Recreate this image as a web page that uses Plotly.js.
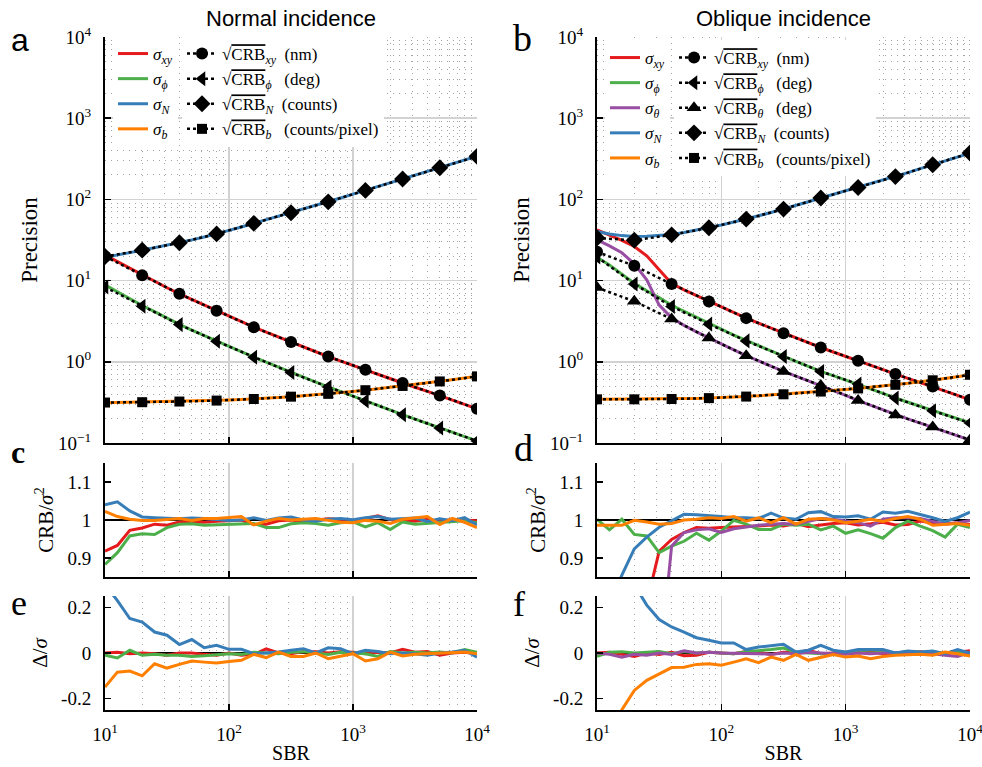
<!DOCTYPE html>
<html>
<head>
<meta charset="utf-8">
<script src="https://cdn.plot.ly/plotly-3.0.1.min.js"></script>
<style>html,body{margin:0;padding:0;background:#fff;}#chart{width:982px;height:767px;}</style>
</head>
<body>
<div id="chart"></div>
<script>
// ---------- DATA ----------
const sbr = [10, 12.59, 15.85, 19.95, 25.12, 31.62, 39.81, 50.12, 63.1, 79.43, 100, 125.9, 158.5, 199.5, 251.2, 316.2, 398.1, 501.2, 631, 794.3, 1000, 1259, 1585, 1995, 2512, 3162, 3981, 5012, 6310, 7943, 10000];
const sbrCRB = [10, 19.95, 39.81, 79.43, 158.5, 316.2, 631, 1259, 2512, 5012, 10000];

// Panel a: normal incidence, simulated precision
const aSigXY  = [20.7, 17.2, 14.0, 11.6, 9.73, 8.17, 6.87, 5.85, 4.99, 4.25, 3.64, 3.12, 2.67, 2.32, 2.01, 1.75, 1.53, 1.33, 1.16, 1.03, 0.904, 0.797, 0.703, 0.619, 0.547, 0.486, 0.433, 0.385, 0.339, 0.299, 0.264];
const aSigPhi = [8.85, 7.27, 5.92, 4.93, 4.14, 3.45, 2.89, 2.46, 2.10, 1.80, 1.55, 1.32, 1.14, 0.99, 0.856, 0.737, 0.643, 0.562, 0.491, 0.429, 0.376, 0.329, 0.290, 0.254, 0.223, 0.197, 0.173, 0.153, 0.136, 0.120, 0.106];
const aSigN   = [19.4, 20.5, 22.1, 23.6, 25.3, 27.1, 29.2, 31.7, 34.5, 37.6, 41.5, 45.8, 50.6, 56.0, 61.8, 68.3, 75.9, 84.1, 93.3, 104, 116, 129, 144, 160, 178, 198, 220, 245, 274, 304, 341];
const aSigB   = [0.312, 0.314, 0.317, 0.318, 0.320, 0.321, 0.324, 0.327, 0.330, 0.333, 0.338, 0.343, 0.348, 0.356, 0.364, 0.372, 0.382, 0.392, 0.403, 0.417, 0.432, 0.447, 0.465, 0.484, 0.504, 0.526, 0.548, 0.573, 0.601, 0.630, 0.663];
// Panel a: sqrt(CRB)
const aCrbXY  = [19.8, 11.6, 6.87, 4.25, 2.67, 1.75, 1.16, 0.797, 0.547, 0.385, 0.264];
const aCrbPhi = [8.32, 4.84, 2.87, 1.79, 1.14, 0.736, 0.490, 0.329, 0.223, 0.153, 0.106];
const aCrbN   = [19.8, 23.7, 29.2, 37.6, 50.7, 68.4, 93.3, 129, 178, 245, 339];
const aCrbB   = [0.315, 0.318, 0.324, 0.333, 0.348, 0.372, 0.403, 0.447, 0.504, 0.573, 0.661];

// Panel b: oblique incidence, simulated precision
const bSigXY    = [42.2, 36.6, 31.3, 26.3, 20.2, 13.6, 9.2, 7.69, 6.52, 5.53, 4.73, 4.04, 3.45, 2.99, 2.60, 2.25, 1.97, 1.72, 1.50, 1.32, 1.17, 1.03, 0.908, 0.800, 0.706, 0.628, 0.558, 0.497, 0.438, 0.386, 0.340];
const bSigPhi   = [19.4, 15.6, 12.0, 9.3, 7.5, 6.2, 4.97, 4.18, 3.50, 2.99, 2.53, 2.13, 1.83, 1.57, 1.36, 1.17, 1.01, 0.878, 0.762, 0.677, 0.600, 0.532, 0.468, 0.409, 0.358, 0.318, 0.282, 0.250, 0.223, 0.199, 0.177];
const bSigTheta = [31.8, 26.8, 22.0, 16.1, 10.2, 5.0, 3.48, 2.81, 2.34, 1.96, 1.66, 1.40, 1.19, 1.02, 0.881, 0.760, 0.665, 0.583, 0.511, 0.443, 0.385, 0.333, 0.291, 0.255, 0.222, 0.198, 0.176, 0.157, 0.139, 0.123, 0.109];
const bSigN     = [40.3, 37.5, 35.8, 35.0, 35.1, 35.8, 37.0, 39.2, 41.8, 44.7, 48.5, 52.6, 57.1, 62.8, 69.0, 75.9, 84.1, 93.5, 104, 115, 127, 140, 156, 173, 191, 214, 239, 267, 298, 333, 372];
const bSigB     = [0.345, 0.345, 0.345, 0.345, 0.346, 0.348, 0.348, 0.352, 0.354, 0.357, 0.362, 0.368, 0.373, 0.381, 0.390, 0.398, 0.408, 0.419, 0.430, 0.443, 0.456, 0.470, 0.486, 0.504, 0.521, 0.543, 0.568, 0.592, 0.624, 0.656, 0.692];
// Panel b: sqrt(CRB)
const bCrbXY    = [22.6, 15.2, 9.06, 5.53, 3.45, 2.25, 1.50, 1.03, 0.706, 0.497, 0.340];
const bCrbPhi   = [19.6, 9.06, 4.80, 2.91, 1.81, 1.16, 0.760, 0.531, 0.357, 0.249, 0.176];
const bCrbTheta = [8.2, 5.55, 3.36, 1.96, 1.19, 0.760, 0.511, 0.333, 0.222, 0.157, 0.109];
const bCrbN     = [33.4, 31.4, 36.6, 44.7, 57.2, 75.9, 104, 140, 191, 267, 372];
const bCrbB     = [0.345, 0.345, 0.348, 0.357, 0.373, 0.398, 0.430, 0.470, 0.521, 0.592, 0.692];

// Panel c: CRB / sigma^2 (normal)
const cXY  = [0.918, 0.933, 0.973, 0.979, 0.989, 0.986, 0.995, 0.996, 0.994, 0.997, 0.998, 1.000, 0.988, 0.989, 0.998, 1.000, 0.996, 0.999, 1.003, 1.001, 0.998, 1.004, 1.011, 1.001, 0.999, 0.997, 1.002, 0.996, 1.001, 0.999, 0.998];
const cPhi = [0.883, 0.914, 0.958, 0.964, 0.962, 0.980, 0.989, 0.990, 0.986, 0.987, 0.989, 0.990, 0.991, 0.980, 0.980, 0.990, 0.993, 0.991, 0.986, 0.993, 0.995, 0.982, 0.993, 0.975, 0.995, 0.989, 0.991, 0.993, 0.996, 0.998, 0.993];
const cN   = [1.040, 1.048, 1.024, 1.008, 1.006, 1.004, 1.003, 1.005, 1.004, 1.001, 0.999, 1.000, 1.006, 0.999, 1.005, 1.008, 1.000, 0.997, 1.002, 1.004, 1.001, 1.006, 1.009, 1.002, 1.003, 1.005, 0.996, 1.003, 0.998, 1.006, 0.987];
const cB   = [1.023, 1.009, 1.002, 0.999, 0.999, 1.002, 1.004, 0.999, 1.004, 1.004, 1.006, 1.009, 0.987, 0.997, 1.004, 1.000, 1.002, 1.004, 0.999, 0.994, 0.993, 0.999, 0.997, 0.991, 1.002, 1.006, 1.009, 0.988, 1.004, 0.994, 0.980];

// Panel d: CRB / sigma^2 (oblique)
const dXY    = [0.50, 0.58, 0.65, 0.72, 0.78, 0.918, 0.949, 0.967, 0.980, 0.978, 0.980, 0.981, 0.982, 0.984, 0.987, 0.984, 0.991, 0.982, 0.987, 0.991, 0.993, 0.987, 0.990, 0.994, 0.987, 0.988, 0.997, 0.992, 0.990, 0.992, 0.988];
const dPhi   = [1.002, 0.974, 1.002, 0.962, 0.958, 0.914, 0.931, 0.944, 0.965, 0.947, 0.971, 0.999, 0.989, 0.975, 0.975, 0.989, 0.986, 0.989, 0.974, 0.984, 0.965, 0.974, 0.964, 0.952, 0.980, 0.997, 0.984, 0.972, 0.955, 0.989, 0.980];
const dTheta = [0.30, 0.35, 0.40, 0.45, 0.52, 0.60, 0.931, 0.967, 0.974, 0.977, 0.967, 0.977, 0.982, 0.986, 0.989, 0.991, 0.989, 0.997, 1.004, 1.002, 0.997, 0.993, 0.984, 1.002, 1.006, 1.006, 1.004, 0.997, 0.989, 0.993, 0.999];
const dN     = [0.70, 0.78, 0.855, 0.924, 0.955, 0.981, 0.997, 1.015, 1.014, 1.012, 1.009, 1.006, 1.006, 1.004, 1.018, 1.005, 1.002, 1.019, 1.022, 1.009, 1.008, 1.011, 1.002, 1.021, 1.018, 1.023, 1.015, 1.006, 0.996, 1.006, 1.021];
const dB     = [0.986, 0.986, 0.986, 0.999, 0.995, 0.989, 0.991, 1.000, 1.002, 1.006, 1.004, 1.009, 0.997, 1.006, 0.993, 1.006, 0.989, 1.002, 1.004, 1.000, 0.993, 0.997, 1.002, 0.996, 1.004, 1.009, 1.002, 0.986, 0.989, 0.991, 0.986];

// Panel e: bias / sigma (normal)
const eXY  = [0.000, 0.003, -0.003, 0.000, -0.003, -0.010, 0.000, 0.000, -0.006, -0.010, 0.000, -0.010, -0.006, 0.018, 0.000, -0.003, 0.006, 0.006, 0.000, 0.006, 0.003, -0.003, 0.003, 0.000, 0.016, 0.003, 0.006, -0.010, 0.000, 0.003, -0.003];
const ePhi = [-0.010, -0.022, 0.012, -0.010, -0.006, -0.010, -0.010, -0.015, -0.012, -0.006, -0.003, -0.006, 0.003, 0.000, -0.003, 0.003, 0.006, 0.000, -0.006, 0.003, 0.000, -0.003, -0.015, 0.006, 0.000, 0.003, 0.000, 0.004, 0.000, 0.015, 0.003];
const eN   = [0.30, 0.23, 0.151, 0.136, 0.092, 0.078, 0.037, 0.059, 0.023, 0.034, 0.016, 0.016, -0.003, 0.000, 0.004, 0.012, 0.019, 0.000, 0.023, 0.019, -0.003, 0.012, 0.007, -0.003, 0.000, -0.003, -0.010, 0.000, 0.004, 0.012, -0.018];
const eB   = [-0.149, -0.084, -0.079, -0.100, -0.047, -0.066, -0.050, -0.035, -0.040, -0.044, -0.037, -0.032, -0.006, -0.020, 0.004, -0.015, -0.015, 0.000, -0.025, -0.013, -0.003, -0.035, -0.025, 0.004, -0.013, -0.006, -0.003, 0.000, 0.001, 0.004, -0.003];

// Panel f: bias / sigma (oblique)
const fXY    = [0.000, 0.003, -0.006, -0.015, 0.000, -0.006, 0.003, -0.012, -0.010, 0.003, 0.000, -0.003, 0.006, 0.003, -0.006, 0.003, 0.000, 0.012, -0.003, 0.000, 0.003, 0.000, 0.006, -0.003, 0.000, 0.003, 0.006, 0.000, -0.003, 0.003, 0.010];
const fPhi   = [-0.015, 0.003, 0.006, 0.000, 0.003, 0.006, -0.003, 0.006, 0.000, 0.003, 0.000, -0.003, 0.006, 0.010, 0.015, 0.022, 0.003, 0.000, -0.003, -0.006, 0.000, 0.003, 0.000, 0.003, 0.000, 0.006, 0.003, 0.000, 0.000, 0.006, -0.003];
const fTheta = [0.000, -0.006, -0.018, -0.006, -0.010, 0.000, -0.006, 0.010, 0.000, 0.003, 0.000, 0.000, 0.000, -0.003, -0.006, 0.000, -0.003, 0.003, 0.000, -0.003, -0.006, 0.000, -0.003, 0.000, 0.000, 0.003, -0.006, -0.003, -0.010, -0.015, 0.003];
const fN     = [0.55, 0.45, 0.37, 0.30, 0.210, 0.147, 0.114, 0.092, 0.067, 0.056, 0.044, 0.044, 0.015, 0.026, 0.031, 0.038, 0.004, 0.012, 0.034, 0.012, 0.004, 0.015, 0.015, 0.015, 0.000, 0.009, 0.004, 0.009, -0.003, 0.015, 0.000];
const fB     = [-0.42, -0.33, -0.249, -0.164, -0.120, -0.091, -0.064, -0.062, -0.050, -0.047, -0.054, -0.040, -0.025, -0.042, -0.018, -0.032, -0.006, -0.032, -0.018, -0.007, -0.018, -0.013, -0.025, -0.015, -0.010, -0.007, -0.006, -0.010, 0.004, -0.003, -0.013];

// labels
const sigNames = {
  xy: '<i>σ</i><sub><i>xy</i></sub>', phi: '<i>σ</i><sub><i>ϕ</i></sub>', theta: '<i>σ</i><sub><i>θ</i></sub>',
  N: '<i>σ</i><sub><i>N</i></sub>', b: '<i>σ</i><sub><i>b</i></sub>'
};
const crb = '√<span style="text-decoration:overline">CRB</span>';
const crbNames = {
  xy: crb + '<sub><i>xy</i></sub>  (nm)', phi: crb + '<sub><i>ϕ</i></sub>   (deg)', theta: crb + '<sub><i>θ</i></sub>   (deg)',
  N: crb + '<sub><i>N</i></sub>  (counts)', b: crb + '<sub><i>b</i></sub>   (counts/pixel)'
};
const xTickVals = [10, 100, 1000, 10000];
const xTickText = ['10<sup>1</sup>', '10<sup>2</sup>', '10<sup>3</sup>', '10<sup>4</sup>'];
const yTickVals = [0.1, 1, 10, 100, 1000, 10000];
const yTickText = ['10<sup>−1</sup>', '10<sup>0</sup>', '10<sup>1</sup>', '10<sup>2</sup>', '10<sup>3</sup>', '10<sup>4</sup>'];

// ---------- STYLE ----------
const col = {xy: '#e41a1c', phi: '#4daf4a', theta: '#984ea3', N: '#377eb8', b: '#ff7f00'};
const SERIF = 'Liberation Serif, DejaVu Serif, serif';
const SANS = 'Liberation Sans, Arial, sans-serif';
const W = 982, H = 767;
const px = v => v / W, py = v => 1 - v / H;

const traces = [];
function simLine(x, y, key, xa, ya, legend, show) {
  traces.push({x: x, y: y, type: 'scatter', mode: 'lines', xaxis: xa, yaxis: ya,
    line: {color: col[key], width: 3}, name: sigNames[key], legend: legend || 'legend',
    showlegend: !!show, hoverinfo: 'skip'});
}
const markerSym = {xy: 'circle', phi: 'triangle-left', theta: 'triangle-up', N: 'diamond', b: 'square'};
const markerSize = {xy: 12, phi: 13, theta: 13, N: 13, b: 10};
function crbLine(x, y, key, xa, ya, legend) {
  traces.push({x: x, y: y, type: 'scatter', mode: 'lines+markers', xaxis: xa, yaxis: ya,
    line: {color: 'black', width: 2.5, dash: 'dot'},
    marker: {symbol: markerSym[key], size: markerSize[key], color: 'black'},
    name: crbNames[key], legend: legend, showlegend: true, hoverinfo: 'skip'});
}

// panel a
simLine(sbr, aSigXY, 'xy', 'x', 'y', 'legend', true);
simLine(sbr, aSigPhi, 'phi', 'x', 'y', 'legend', true);
simLine(sbr, aSigN, 'N', 'x', 'y', 'legend', true);
simLine(sbr, aSigB, 'b', 'x', 'y', 'legend', true);
crbLine(sbrCRB, aCrbXY, 'xy', 'x', 'y', 'legend2');
crbLine(sbrCRB, aCrbPhi, 'phi', 'x', 'y', 'legend2');
crbLine(sbrCRB, aCrbN, 'N', 'x', 'y', 'legend2');
crbLine(sbrCRB, aCrbB, 'b', 'x', 'y', 'legend2');
// panel b
simLine(sbr, bSigXY, 'xy', 'x2', 'y2', 'legend3', true);
simLine(sbr, bSigPhi, 'phi', 'x2', 'y2', 'legend3', true);
simLine(sbr, bSigTheta, 'theta', 'x2', 'y2', 'legend3', true);
simLine(sbr, bSigN, 'N', 'x2', 'y2', 'legend3', true);
simLine(sbr, bSigB, 'b', 'x2', 'y2', 'legend3', true);
crbLine(sbrCRB, bCrbXY, 'xy', 'x2', 'y2', 'legend4');
crbLine(sbrCRB, bCrbPhi, 'phi', 'x2', 'y2', 'legend4');
crbLine(sbrCRB, bCrbTheta, 'theta', 'x2', 'y2', 'legend4');
crbLine(sbrCRB, bCrbN, 'N', 'x2', 'y2', 'legend4');
crbLine(sbrCRB, bCrbB, 'b', 'x2', 'y2', 'legend4');
// panel c
simLine(sbr, cXY, 'xy', 'x3', 'y3');
simLine(sbr, cPhi, 'phi', 'x3', 'y3');
simLine(sbr, cN, 'N', 'x3', 'y3');
simLine(sbr, cB, 'b', 'x3', 'y3');
// panel d
simLine(sbr, dXY, 'xy', 'x4', 'y4');
simLine(sbr, dPhi, 'phi', 'x4', 'y4');
simLine(sbr, dTheta, 'theta', 'x4', 'y4');
simLine(sbr, dN, 'N', 'x4', 'y4');
simLine(sbr, dB, 'b', 'x4', 'y4');
// panel e
simLine(sbr, eXY, 'xy', 'x5', 'y5');
simLine(sbr, ePhi, 'phi', 'x5', 'y5');
simLine(sbr, eN, 'N', 'x5', 'y5');
simLine(sbr, eB, 'b', 'x5', 'y5');
// panel f
simLine(sbr, fXY, 'xy', 'x6', 'y6');
simLine(sbr, fPhi, 'phi', 'x6', 'y6');
simLine(sbr, fTheta, 'theta', 'x6', 'y6');
simLine(sbr, fN, 'N', 'x6', 'y6');
simLine(sbr, fB, 'b', 'x6', 'y6');

// ---------- AXES ----------
const minorLog = [];
for (let e = -1; e < 4; e++) for (let d = 2; d <= 9; d++) minorLog.push(d * Math.pow(10, e));
const minorGrid = {tickmode: 'array', tickvals: minorLog, showgrid: true, gridcolor: '#a4a4a4', gridwidth: 1, griddash: '1px,5px', ticks: ''};

function xAxis(domain, anchor, labels) {
  return {type: 'log', domain: domain, anchor: anchor, range: [1, 4], automargin: false,
    tickmode: 'array', tickvals: xTickVals, ticktext: xTickText, showticklabels: labels,
    ticklabeloverflow: 'allow',
    tickfont: {family: SERIF, size: 19, color: 'black'}, ticks: 'inside', ticklen: 6, tickwidth: 1.5, tickcolor: 'black',
    showline: true, linecolor: 'black', linewidth: 2, mirror: false, zeroline: false,
    showgrid: true, gridcolor: '#d2d2d2', gridwidth: 1.5,
    minor: minorGrid,
    ticklabelstandoff: 6,
    title: labels ? {text: 'SBR', font: {family: SERIF, size: 20, color: 'black'}, standoff: 2} : {text: ''}};
}
const topDom = [py(443), py(37)], midDom = [py(577), py(463)], botDom = [py(710), py(596)];
const leftDom = [px(105), px(477)], rightDom = [px(597), px(970)];

function yTop(domain, anchor) {
  return {type: 'log', domain: domain, anchor: anchor, range: [-1, 4], automargin: false,
    tickmode: 'array', tickvals: yTickVals, ticktext: yTickText,
    tickfont: {family: SERIF, size: 19, color: 'black'}, ticks: 'inside', ticklen: 6, tickwidth: 1.5, tickcolor: 'black',
    showline: true, linecolor: 'black', linewidth: 2, zeroline: false,
    showgrid: true, gridcolor: '#d2d2d2', gridwidth: 1.5,
    minor: minorGrid,
    ticklabelstandoff: 8,
    title: {text: 'Precision', font: {family: SERIF, size: 23, color: 'black'}, standoff: 14}};
}
function yMid(domain, anchor) {
  return {domain: domain, anchor: anchor, range: [0.85, 1.15], automargin: false,
    tickmode: 'array', tickvals: [0.9, 1, 1.1], ticktext: ['0.9', '1', '1.1'],
    tickfont: {family: SERIF, size: 19, color: 'black'}, ticks: 'inside', ticklen: 6, tickwidth: 1.5, tickcolor: 'black',
    showline: true, linecolor: 'black', linewidth: 2, zeroline: false, showgrid: false,
    ticklabelstandoff: 8,
    title: {text: 'CRB/<i>σ</i><sup>2</sup>', font: {family: SERIF, size: 21, color: 'black'}, standoff: 8}};
}
function yBot(domain, anchor) {
  return {domain: domain, anchor: anchor, range: [-0.25, 0.25], automargin: false,
    tickmode: 'array', tickvals: [-0.2, 0, 0.2], ticktext: ['-0.2', '0', '0.2'],
    tickfont: {family: SERIF, size: 19, color: 'black'}, ticks: 'inside', ticklen: 6, tickwidth: 1.5, tickcolor: 'black',
    showline: true, linecolor: 'black', linewidth: 2, showgrid: false,
    zeroline: true, zerolinecolor: 'black', zerolinewidth: 2,
    ticklabelstandoff: 8,
    title: {text: 'Δ/<i>σ</i>', font: {family: SERIF, size: 21, color: 'black'}, standoff: 8}};
}

const legBase = {xanchor: 'left', yanchor: 'top', bgcolor: 'rgba(255,255,255,1)', borderwidth: 0,
  font: {family: SERIF, size: 17, color: 'black'}, tracegroupgap: 0, itemwidth: 30, traceorder: 'normal'};

const ann = (text, x, y, font) => ({text: text, x: px(x), y: py(y), xref: 'paper', yref: 'paper',
  xanchor: 'center', yanchor: 'middle', showarrow: false, font: font});

const layout = {
  width: W, height: H, margin: {l: 0, r: 0, t: 0, b: 0}, paper_bgcolor: 'white', plot_bgcolor: 'white',
  font: {family: SERIF, color: 'black'},
  xaxis: xAxis(leftDom, 'y', false), yaxis: yTop(topDom, 'x'),
  xaxis2: xAxis(rightDom, 'y2', false), yaxis2: yTop(topDom, 'x2'),
  xaxis3: xAxis(leftDom, 'y3', false), yaxis3: yMid(midDom, 'x3'),
  xaxis4: xAxis(rightDom, 'y4', false), yaxis4: yMid(midDom, 'x4'),
  xaxis5: xAxis(leftDom, 'y5', true), yaxis5: yBot(botDom, 'x5'),
  xaxis6: xAxis(rightDom, 'y6', true), yaxis6: yBot(botDom, 'x6'),
  legend: Object.assign({}, legBase, {x: px(113), y: py(36)}),
  legend2: Object.assign({}, legBase, {x: px(182), y: py(36)}),
  legend3: Object.assign({}, legBase, {x: px(605), y: py(40)}),
  legend4: Object.assign({}, legBase, {x: px(674), y: py(40)}),
  shapes: [
    {type: 'line', xref: 'x3 domain', yref: 'y3', x0: 0, x1: 1, y0: 1, y1: 1, line: {color: 'black', width: 2}, layer: 'below'},
    {type: 'line', xref: 'x4 domain', yref: 'y4', x0: 0, x1: 1, y0: 1, y1: 1, line: {color: 'black', width: 2}, layer: 'below'}
  ],
  annotations: [
    ann('Normal incidence', 291, 18, {family: SANS, size: 22, color: 'black'}),
    ann('Oblique incidence', 783, 18, {family: SANS, size: 22, color: 'black'}),
    ann('a', 20, 40, {family: SANS, size: 32, color: 'black'}),
    ann('b', 522, 38, {family: SERIF, size: 38, color: 'black'}),
    ann('<b>c</b>', 18, 452, {family: SERIF, size: 32, color: 'black'}),
    ann('d', 523, 448, {family: SERIF, size: 38, color: 'black'}),
    ann('e', 19, 603, {family: SERIF, size: 36, color: 'black'}),
    ann('f', 519, 604, {family: SERIF, size: 36, color: 'black'})
  ]
};

Plotly.newPlot('chart', traces, layout, {displayModeBar: false, staticPlot: true});
</script>
</body>
</html>
